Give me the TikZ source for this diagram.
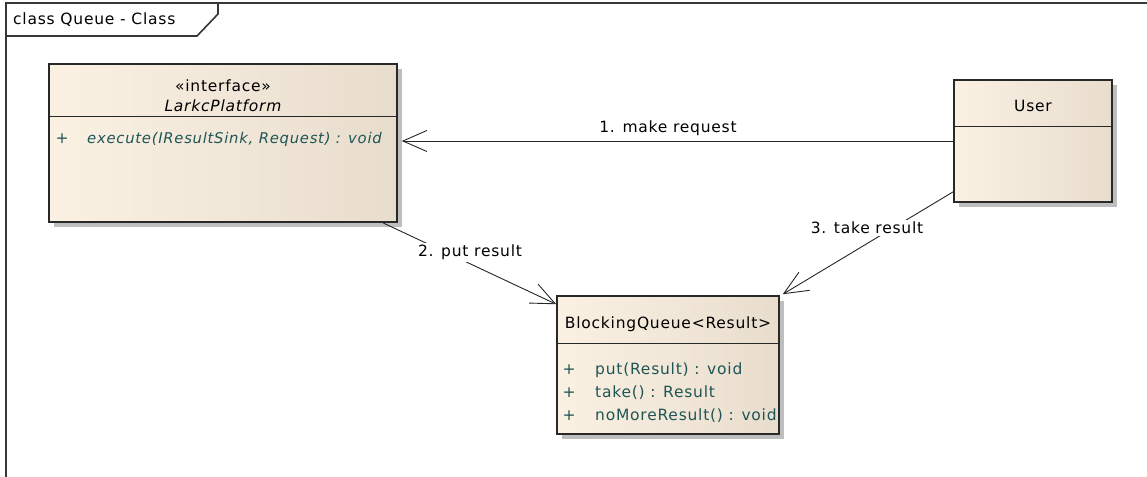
\documentclass[tikz,border=0pt]{standalone}
\usepackage{fontspec}
\setmainfont{DejaVu Sans}[LetterSpace=5]
\usetikzlibrary{arrows.meta,calc,shadows}
\definecolor{boxborder}{RGB}{40,40,40}
\definecolor{fillL}{RGB}{251,241,227}
\definecolor{fillR}{RGB}{232,221,205}
\definecolor{shadowgray}{RGB}{190,190,190}
\definecolor{opteal}{RGB}{30,85,85}
\definecolor{framegray}{RGB}{55,55,55}
\tikzset{
  umlbox/.style={draw=boxborder, line width=1.5pt, rectangle, inner sep=0pt,
    left color=fillL, right color=fillR,
    drop shadow={shadow xshift=5pt, shadow yshift=-5pt, fill=shadowgray, opacity=1}},
  divider/.style={draw=boxborder, line width=1.2pt},
  txt/.style={inner sep=0pt, font=\fontsize{15.5}{18}\selectfont, text=black},
  optxt/.style={txt, text=opteal},
  conn/.style={draw=black!85, line width=0.9pt,
    -{Straight Barb[length=24pt,width=21pt,line width=0.9pt]}},
  lbl/.style={txt, fill=white, inner sep=2pt},
  frameline/.style={draw=framegray, line width=1.6pt}
}
\begin{document}
\begin{tikzpicture}[x=1pt,y=-1pt]
\useasboundingbox (0,0) rectangle (1147,476);
% frame
\draw[frameline] (6,480) -- (6,3) -- (1150,3);
\draw[frameline] (6,36) -- (197,36) -- (218,14) -- (218,3);
\node[txt, anchor=base west] (title) at (13,25) {class Queue - Class};

% LarkcPlatform
\node[umlbox, minimum width=348pt, minimum height=158pt] (larkc) at (223,143) {};
\draw[divider] ($(larkc.north west)+(0,53)$) -- ($(larkc.north east)+(0,53)$);
\node[txt, anchor=base] (stereo) at (223,92) {«interface»};
\node[txt, anchor=base] (lname) at (223,112) {\itshape LarkcPlatform};
\node[optxt, anchor=base] (lplus) at (62,143) {+};
\node[optxt, anchor=base west, font=\fontsize{14.8}{18}\selectfont] (lop) at (87,143) {\itshape execute(IResultSink, Request) : void};

% User
\node[umlbox, minimum width=158pt, minimum height=122pt] (user) at (1033,141) {};
\draw[divider] ($(user.north west)+(0,47)$) -- ($(user.north east)+(0,47)$);
\node[txt, anchor=base] (uname) at (1033,112) {User};

% BlockingQueue
\node[umlbox, minimum width=222pt, minimum height=138pt] (bq) at (668,365) {};
\draw[divider] ($(bq.north west)+(0,48)$) -- ($(bq.north east)+(0,48)$);
\node[txt, anchor=base] (bqname) at (668,328) {BlockingQueue<Result>};
\node[optxt, anchor=base] (p1) at (569,374) {+};
\node[optxt, anchor=base west] (o1) at (595,374) {put(Result) : void};
\node[optxt, anchor=base] (p2) at (569,397) {+};
\node[optxt, anchor=base west] (o2) at (595,397) {take() : Result};
\node[optxt, anchor=base] (p3) at (569,420) {+};
\node[optxt, anchor=base west] (o3) at (595,420) {noMoreResult() : void};

% connectors
\coordinate (t1) at ($(larkc.east |- user.west)+(4,0)$);
\draw[conn] (user.west) -- (t1);
\node[lbl] (l1) at (668,128) {1. make request};

\coordinate (s2) at ($(larkc.south east)+(-15,0)$);
\coordinate (t2) at ($(bq.north west)+(0,9)$);
\draw[conn] (s2) -- (t2);
\node[lbl] (l2) at (470,252) {2. put result};

\coordinate (s3) at ($(user.south west)+(0,-11)$);
\coordinate (t3) at ($(bq.north east)+(3,-1)$);
\draw[conn] (s3) -- (t3);
\node[lbl] (l3) at (867,228) {3. take result};
\end{tikzpicture}
\end{document}
